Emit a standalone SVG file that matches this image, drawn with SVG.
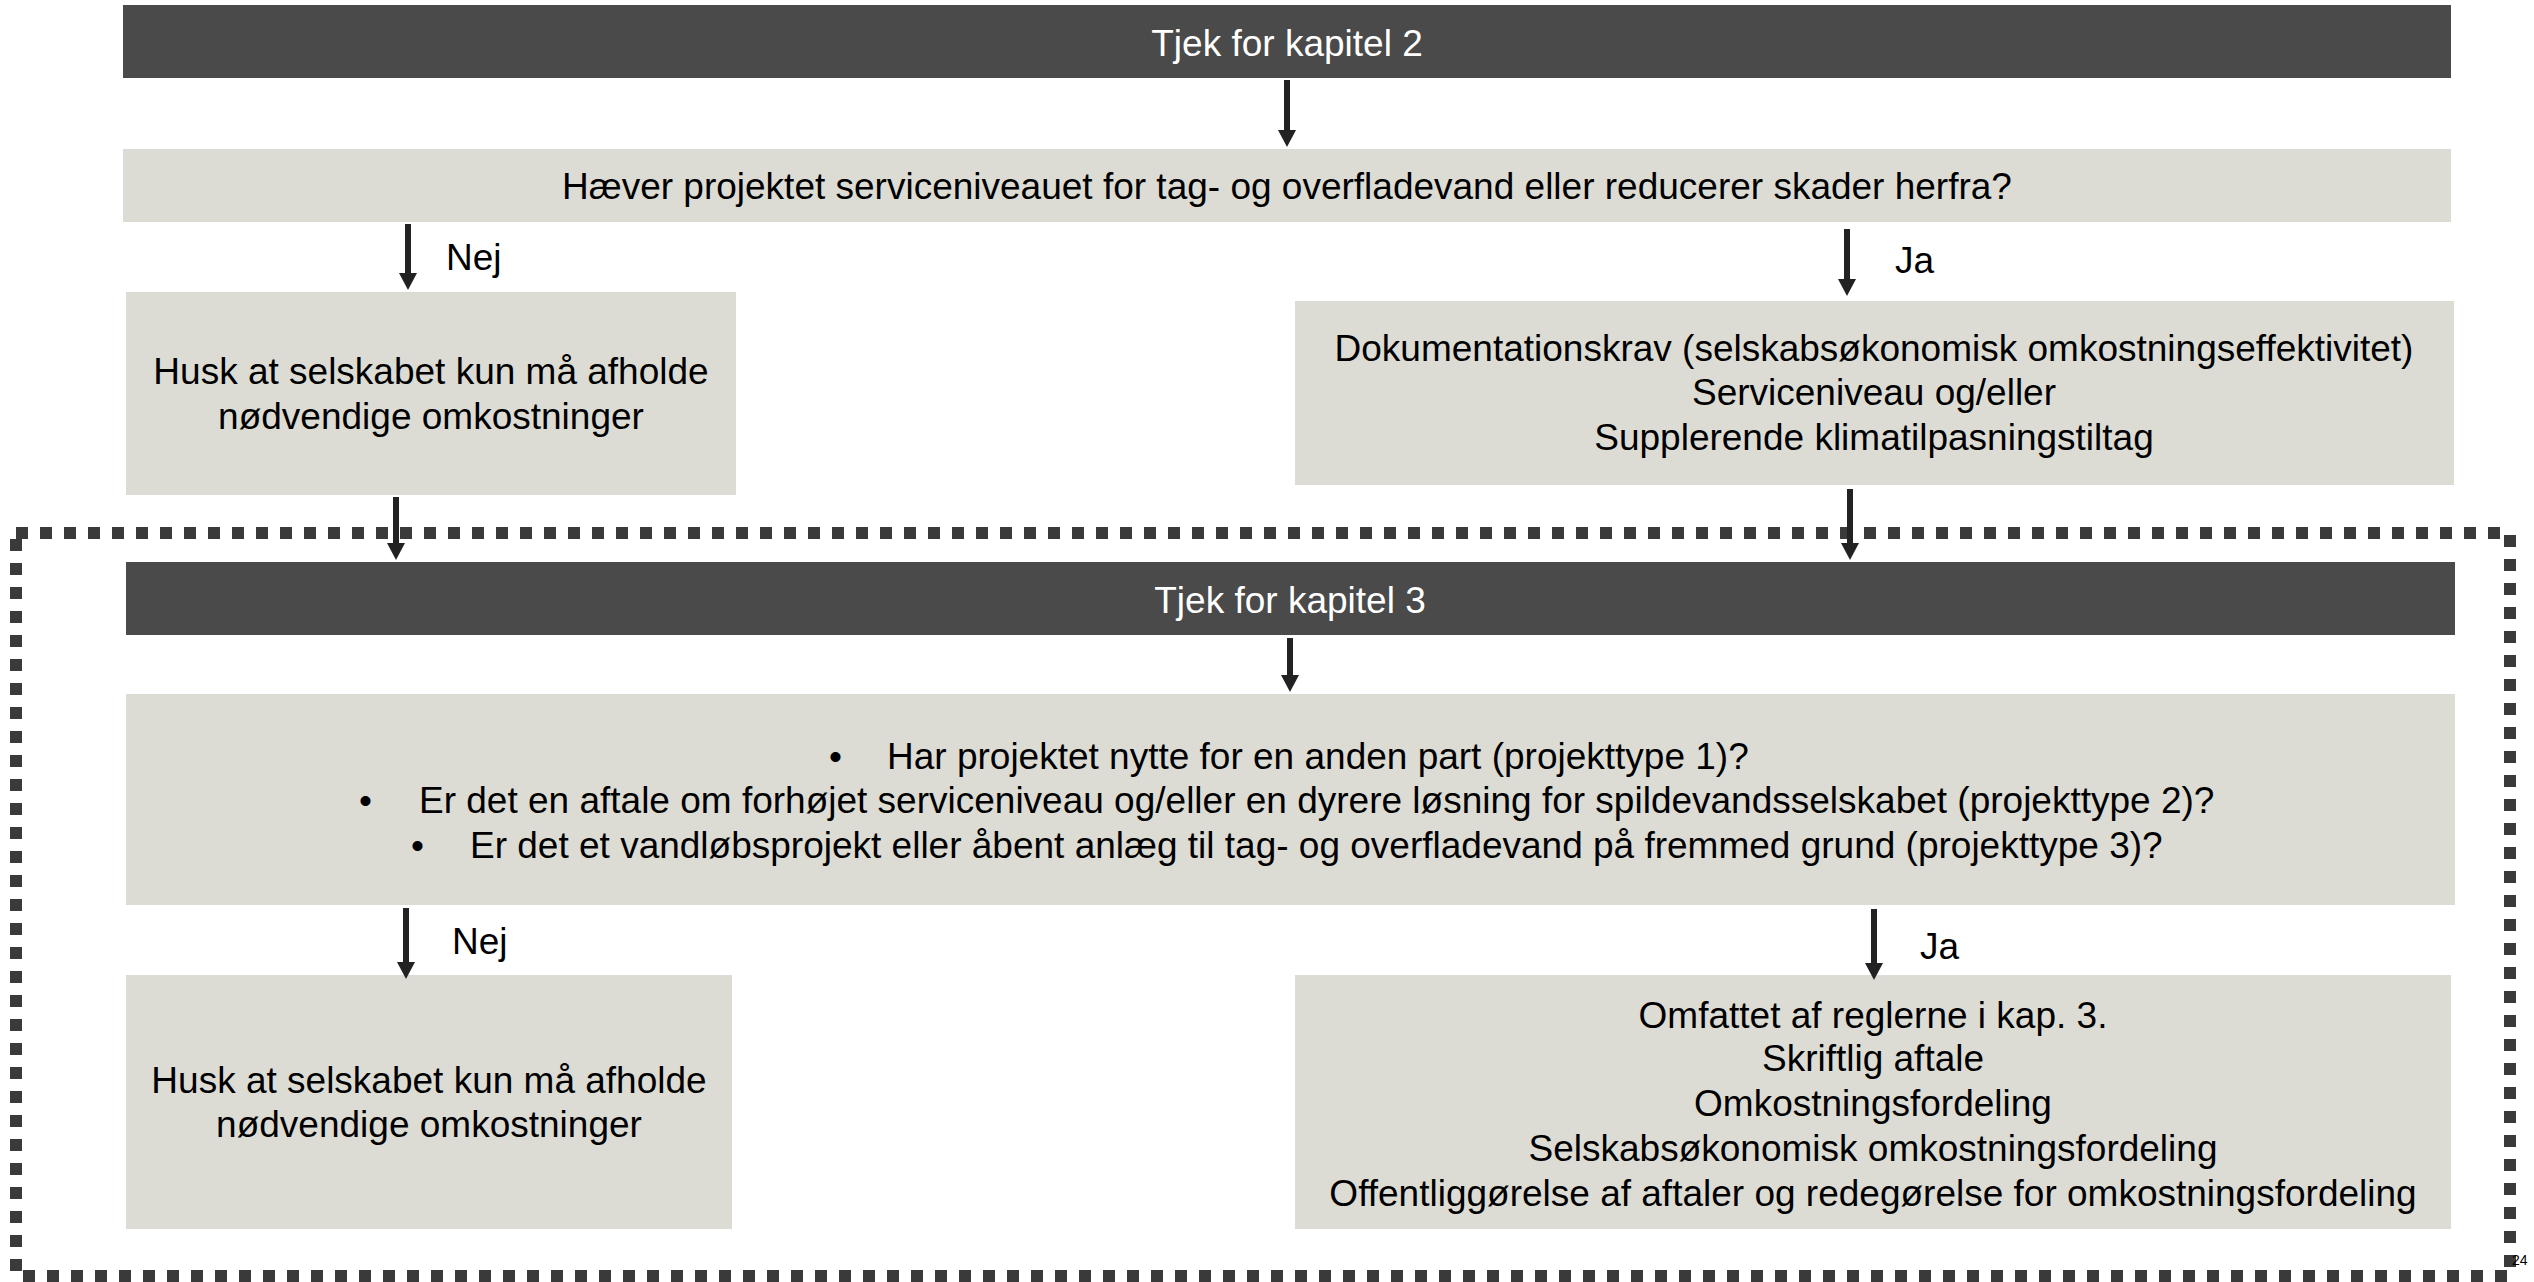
<svg xmlns="http://www.w3.org/2000/svg" width="2534" height="1282" viewBox="0 0 2534 1282">
<defs>
<style>
.dark{fill:#4a4a4a}
.light{fill:#dcdcd4}
text{font-family:"Liberation Sans",Arial,sans-serif;font-size:37px;fill:#000}
.w{fill:#fff}
.c{text-anchor:middle}
.conn line{stroke:#222;stroke-width:6;marker-end:url(#ah)}
</style>
<marker id="ah" markerUnits="userSpaceOnUse" markerWidth="17" markerHeight="18" viewBox="0 0 17 18" refX="7" refY="9" orient="auto">
<path d="M0,0 L17,9 L0,18 z" fill="#222"/>
</marker>
</defs>
<rect id="chapter3-frame" x="16" y="533" width="2494" height="743" fill="none" stroke="#3a3a3a" stroke-width="12" stroke-dasharray="12 12"/>
<g id="n-kap2"><rect class="dark" x="123" y="5" width="2328" height="73"/><text class="w c" x="1287" y="56">Tjek for kapitel 2</text></g>
<g id="n-q1"><rect class="light" x="123" y="149" width="2328" height="73"/><text class="c" x="1287" y="199">Hæver projektet serviceniveauet for tag- og overfladevand eller reducerer skader herfra?</text></g>
<g id="n-l1"><rect class="light" x="126" y="292" width="610" height="203"/><text class="c" x="431" y="384">Husk at selskabet kun må afholde</text><text class="c" x="431" y="429">nødvendige omkostninger</text></g>
<g id="n-r1"><rect class="light" x="1295" y="301" width="1159" height="184"/><text class="c" x="1874" y="361">Dokumentationskrav (selskabsøkonomisk omkostningseffektivitet)</text><text class="c" x="1874" y="405">Serviceniveau og/eller</text><text class="c" x="1874" y="450">Supplerende klimatilpasningstiltag</text></g>
<g id="n-kap3"><rect class="dark" x="126" y="562" width="2329" height="73"/><text class="w c" x="1290" y="613">Tjek for kapitel 3</text></g>
<g id="n-q2"><rect class="light" x="126" y="694" width="2329" height="211"/>
<text x="829" y="769">•</text><text x="887" y="769">Har projektet nytte for en anden part (projekttype 1)?</text>
<text x="359" y="813">•</text><text x="419" y="813">Er det en aftale om forhøjet serviceniveau og/eller en dyrere løsning for spildevandsselskabet (projekttype 2)?</text>
<text x="411" y="858">•</text><text x="470" y="858">Er det et vandløbsprojekt eller åbent anlæg til tag- og overfladevand på fremmed grund (projekttype 3)?</text>
</g>
<g id="n-l2"><rect class="light" x="126" y="975" width="606" height="254"/><text class="c" x="429" y="1093">Husk at selskabet kun må afholde</text><text class="c" x="429" y="1137">nødvendige omkostninger</text></g>
<g id="n-r2"><rect class="light" x="1295" y="975" width="1156" height="254"/>
<text class="c" x="1873" y="1028">Omfattet af reglerne i kap. 3.</text>
<text class="c" x="1873" y="1071">Skriftlig aftale</text>
<text class="c" x="1873" y="1116">Omkostningsfordeling</text>
<text class="c" x="1873" y="1161">Selskabsøkonomisk omkostningsfordeling</text>
<text class="c" x="1873" y="1206">Offentliggørelse af aftaler og redegørelse for omkostningsfordeling</text>
</g>
<g id="connectors" class="conn">
<line x1="1287" y1="80" x2="1287" y2="137"/>
<line x1="408" y1="224" x2="408" y2="280"/>
<line x1="1847" y1="229" x2="1847" y2="286"/>
<line x1="396" y1="497" x2="396" y2="550"/>
<line x1="1850" y1="489" x2="1850" y2="550"/>
<line x1="1290" y1="638" x2="1290" y2="682"/>
<line x1="406" y1="908" x2="406" y2="969"/>
<line x1="1874" y1="909" x2="1874" y2="970"/>
<text x="446" y="270">Nej</text>
<text x="1895" y="273">Ja</text>
<text x="452" y="954">Nej</text>
<text x="1920" y="959">Ja</text>
</g>
<text x="2512" y="1265" style="font-size:14px">24</text>
</svg>
